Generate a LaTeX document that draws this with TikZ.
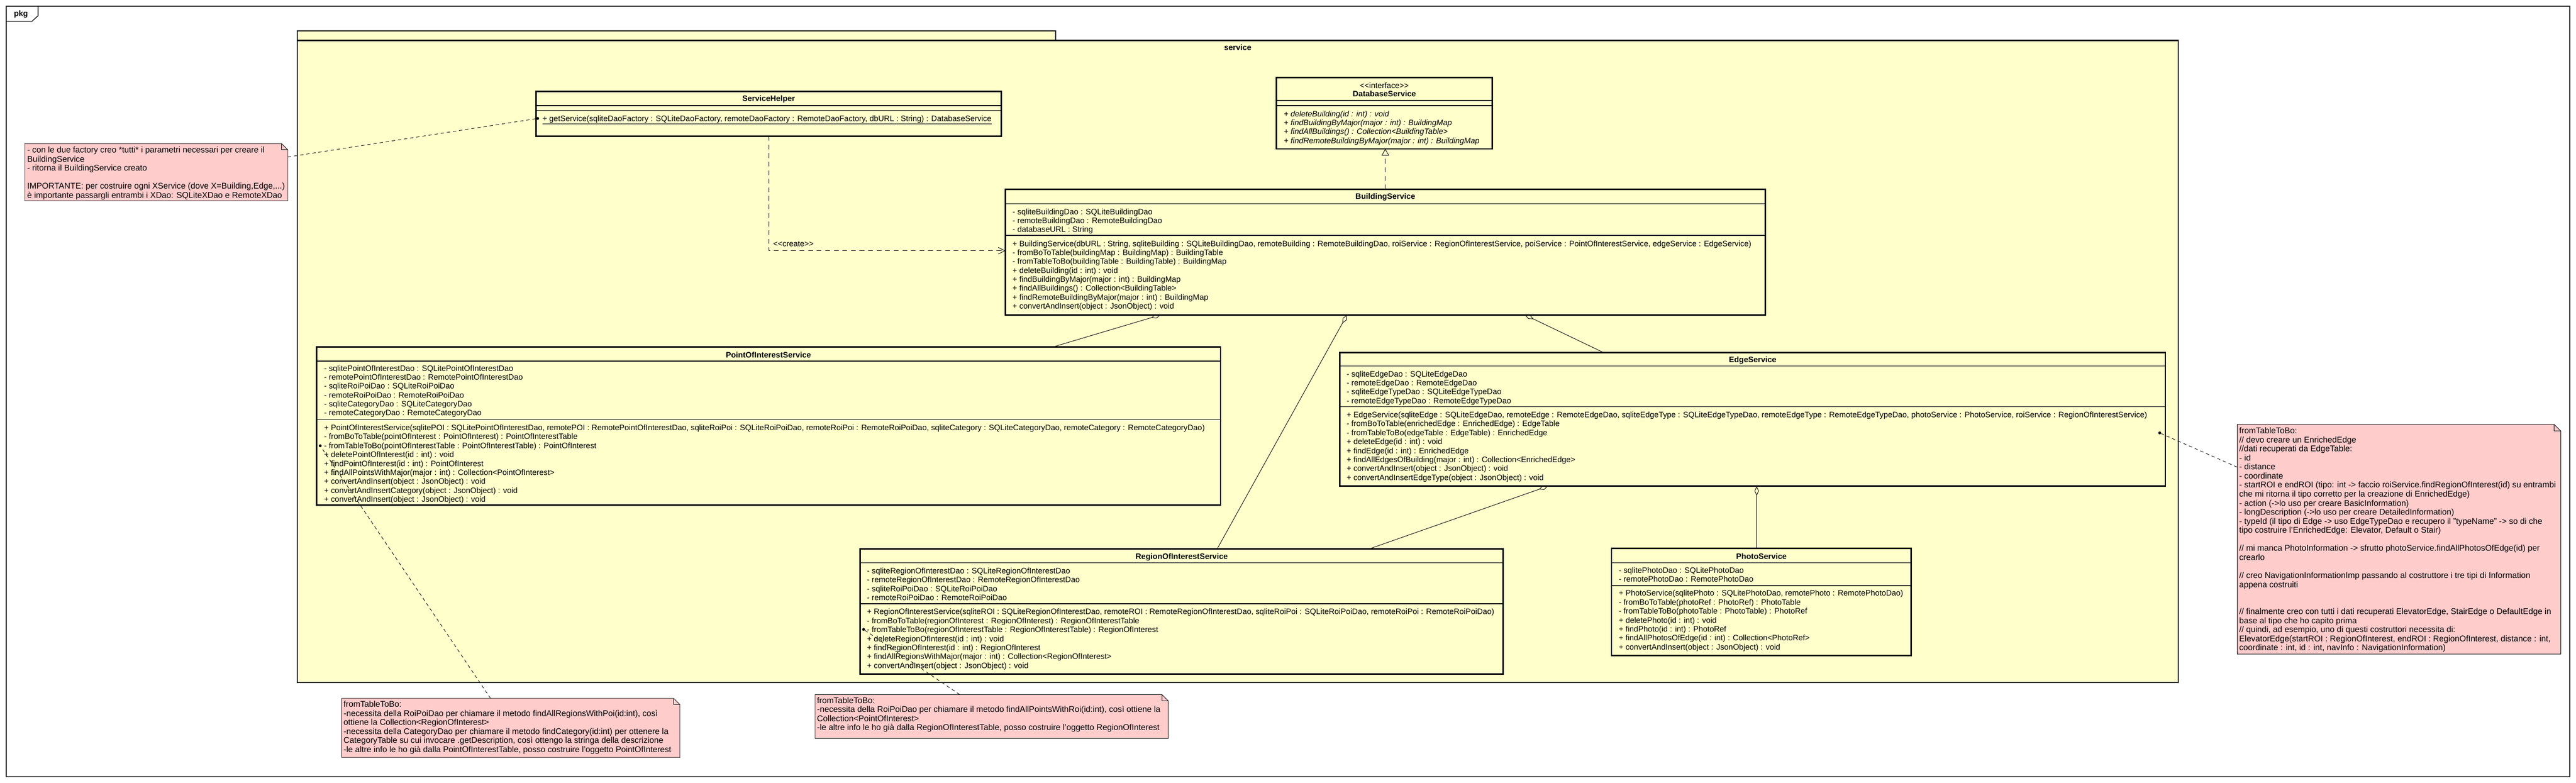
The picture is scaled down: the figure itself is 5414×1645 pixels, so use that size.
\documentclass[tikz,border=0pt]{standalone}
\usepackage{fontspec}
\setmainfont{Liberation Sans}
\usetikzlibrary{arrows.meta}

\definecolor{pkgyellow}{RGB}{255,255,204}
\definecolor{notepink}{RGB}{255,204,204}

\tikzset{
  classbox/.style={draw, line width=3pt, fill=pkgyellow, inner sep=0pt, outer sep=0pt},
  pkgbox/.style={draw, line width=2.5pt, fill=pkgyellow, inner sep=0pt, outer sep=0pt},
  compsep/.style={line width=1.5pt},
  cname/.style={inner sep=0pt, font=\bfseries\fontsize{16.6}{18.8}\selectfont},
  plainlbl/.style={inner sep=0pt, font=\fontsize{16.6}{18.8}\selectfont},
  members/.style={anchor=north west, align=left, inner sep=0pt, font=\fontsize{16.6}{18.8}\selectfont},
  absops/.style={members, font=\itshape\fontsize{16.6}{18.8}\selectfont},
  notebox/.style={draw, line width=1pt, fill=notepink},
  notetext/.style={anchor=north west, align=left, inner sep=0pt, font=\fontsize{17.5}{19}\selectfont},
  aggr/.style={line width=1pt, {Diamond[open, length=20pt, width=9pt]}-},
  realize/.style={line width=1pt, dash pattern=on 10pt off 8pt, -{Triangle[open, length=14pt, width=16pt]}},
  depend/.style={line width=1pt, dash pattern=on 10pt off 8pt, -{Straight Barb[length=14pt, width=14pt]}},
  notelink/.style={line width=1pt, dash pattern=on 7pt off 6pt},
  anchordot/.style={circle, fill, inner sep=0pt, minimum size=6pt}
}

\begin{document}
\begin{tikzpicture}[x=1pt,y=-1pt]
\useasboundingbox (0,0) rectangle (5414,1645);
\fill[white] (0,0) rectangle (5414,1645);

% outer frame
\draw[line width=1.5pt] (13,13) rectangle (5401,1632);
\draw[line width=1.5pt] (13,45) -- (67,45) -- (80,33) -- (80,13);
\node[cname] (pkgLbl) at (44,30) {pkg};

% package service
\node[pkgbox, minimum width=1594, minimum height=20] (serviceTab) at (1422,75) {};
\node[pkgbox, minimum width=3953, minimum height=1350] (service) at (2601.5,760) {};
\node[cname] (serviceLbl) at (2601.5,100) {service};

% ServiceHelper
\node[classbox, minimum width=977, minimum height=94] (sh) at (1615.5,239) {};
\draw[compsep] (1127,222) -- (2104,222);
\draw[compsep] (1127,232) -- (2104,232);
\node[cname] (shName) at (1615.5,209) {ServiceHelper};
\node[members] (shOps) at (1140,242.5) {\underline{+ getService(sqliteDaoFactory : SQLiteDaoFactory, remoteDaoFactory : RemoteDaoFactory, dbURL : String) : DatabaseService}};

% DatabaseService
\node[classbox, minimum width=453, minimum height=150] (dbs) at (2909.5,238) {};
\draw[compsep] (2683,211) -- (3136,211);
\draw[compsep] (2683,222) -- (3136,222);
\node[plainlbl] (dbsStereo) at (2909.5,180) {<{}<interface>{}>};
\node[cname] (dbsName) at (2909.5,197) {DatabaseService};
\node[absops] (dbsOps) at (2698,232.5) {+ deleteBuilding(id : int) : void\\
+ findBuildingByMajor(major : int) : BuildingMap\\
+ findAllBuildings() : Collection<BuildingTable>\\
+ findRemoteBuildingByMajor(major : int) : BuildingMap};

% BuildingService
\node[classbox, minimum width=1597, minimum height=264] (bs) at (2911.5,530) {};
\draw[compsep] (2113,428) -- (3710,428);
\draw[compsep] (2113,495) -- (3710,495);
\node[cname] (bsName) at (2911.5,414) {BuildingService};
\node[members] (bsAttr) at (2128,438.5) {- sqliteBuildingDao : SQLiteBuildingDao\\
- remoteBuildingDao : RemoteBuildingDao\\
- databaseURL : String};
\node[members] (bsOps) at (2128,505.5) {+ BuildingService(dbURL : String, sqliteBuilding : SQLiteBuildingDao, remoteBuilding : RemoteBuildingDao, roiService : RegionOfInterestService, poiService : PointOfInterestService, edgeService : EdgeService)\\
- fromBoToTable(buildingMap : BuildingMap) : BuildingTable\\
- fromTableToBo(buildingTable : BuildingTable) : BuildingMap\\
+ deleteBuilding(id : int) : void\\
+ findBuildingByMajor(major : int) : BuildingMap\\
+ findAllBuildings() : Collection<BuildingTable>\\
+ findRemoteBuildingByMajor(major : int) : BuildingMap\\
+ convertAndInsert(object : JsonObject) : void};

% PointOfInterestService
\node[classbox, minimum width=1900, minimum height=333] (poi) at (1615,895.5) {};
\draw[compsep] (665,759) -- (2565,759);
\draw[compsep] (665,882) -- (2565,882);
\node[cname] (poiName) at (1615,746) {PointOfInterestService};
\node[members] (poiAttr) at (681,767.5) {- sqlitePointOfInterestDao : SQLitePointOfInterestDao\\
- remotePointOfInterestDao : RemotePointOfInterestDao\\
- sqliteRoiPoiDao : SQLiteRoiPoiDao\\
- remoteRoiPoiDao : RemoteRoiPoiDao\\
- sqliteCategoryDao : SQLiteCategoryDao\\
- remoteCategoryDao : RemoteCategoryDao};
\node[members] (poiOps) at (681,892.5) {+ PointOfInterestService(sqlitePOI : SQLitePointOfInterestDao, remotePOI : RemotePointOfInterestDao, sqliteRoiPoi : SQLiteRoiPoiDao, remoteRoiPoi : RemoteRoiPoiDao, sqliteCategory : SQLiteCategoryDao, remoteCategory : RemoteCategoryDao)\\
- fromBoToTable(pointOfInterest : PointOfInterest) : PointOfInterestTable\\
- fromTableToBo(pointOfInterestTable : PointOfInterestTable) : PointOfInterest\\
+ deletePointOfInterest(id : int) : void\\
+ findPointOfInterest(id : int) : PointOfInterest\\
+ findAllPointsWithMajor(major : int) : Collection<PointOfInterest>\\
+ convertAndInsert(object : JsonObject) : void\\
+ convertAndInsertCategory(object : JsonObject) : void\\
+ convertAndInsert(object : JsonObject) : void};

% EdgeService
\node[classbox, minimum width=1735, minimum height=281] (edge) at (3683.5,881.5) {};
\draw[compsep] (2816,769) -- (4551,769);
\draw[compsep] (2816,855) -- (4551,855);
\node[cname] (edgeName) at (3683.5,757) {EdgeService};
\node[members] (edgeAttr) at (2830,779.5) {- sqliteEdgeDao : SQLiteEdgeDao\\
- remoteEdgeDao : RemoteEdgeDao\\
- sqliteEdgeTypeDao : SQLiteEdgeTypeDao\\
- remoteEdgeTypeDao : RemoteEdgeTypeDao};
\node[members] (edgeOps) at (2830,865.5) {+ EdgeService(sqliteEdge : SQLiteEdgeDao, remoteEdge : RemoteEdgeDao, sqliteEdgeType : SQLiteEdgeTypeDao, remoteEdgeType : RemoteEdgeTypeDao, photoService : PhotoService, roiService : RegionOfInterestService)\\
- fromBoToTable(enrichedEdge : EnrichedEdge) : EdgeTable\\
- fromTableToBo(edgeTable : EdgeTable) : EnrichedEdge\\
+ deleteEdge(id : int) : void\\
+ findEdge(id : int) : EnrichedEdge\\
+ findAllEdgesOfBuilding(major : int) : Collection<EnrichedEdge>\\
+ convertAndInsert(object : JsonObject) : void\\
+ convertAndInsertEdgeType(object : JsonObject) : void};

% RegionOfInterestService
\node[classbox, minimum width=1351, minimum height=263] (roi) at (2483.5,1285.5) {};
\draw[compsep] (1808,1183) -- (3159,1183);
\draw[compsep] (1808,1269) -- (3159,1269);
\node[cname] (roiName) at (2483.5,1171) {RegionOfInterestService};
\node[members] (roiAttr) at (1822,1193.5) {- sqliteRegionOfInterestDao : SQLiteRegionOfInterestDao\\
- remoteRegionOfInterestDao : RemoteRegionOfInterestDao\\
- sqliteRoiPoiDao : SQLiteRoiPoiDao\\
- remoteRoiPoiDao : RemoteRoiPoiDao};
\node[members] (roiOps) at (1822,1279.5) {+ RegionOfInterestService(sqliteROI : SQLiteRegionOfInterestDao, remoteROI : RemoteRegionOfInterestDao, sqliteRoiPoi : SQLiteRoiPoiDao, remoteRoiPoi : RemoteRoiPoiDao)\\
- fromBoToTable(regionOfInterest : RegionOfInterest) : RegionOfInterestTable\\
- fromTableToBo(regionOfInterestTable : RegionOfInterestTable) : RegionOfInterest\\
+ deleteRegionOfInterest(id : int) : void\\
+ findRegionOfInterest(id : int) : RegionOfInterest\\
+ findAllRegionsWithMajor(major : int) : Collection<RegionOfInterest>\\
+ convertAndInsert(object : JsonObject) : void};

% PhotoService
\node[classbox, minimum width=630, minimum height=225] (photo) at (3702,1265.5) {};
\draw[compsep] (3387,1183) -- (4017,1183);
\draw[compsep] (3387,1231) -- (4017,1231);
\node[cname] (photoName) at (3702,1169) {PhotoService};
\node[members] (photoAttr) at (3402,1192.5) {- sqlitePhotoDao : SQLitePhotoDao\\
- remotePhotoDao : RemotePhotoDao};
\node[members] (photoOps) at (3402,1240.5) {+ PhotoService(sqlitePhoto : SQLitePhotoDao, remotePhoto : RemotePhotoDao)\\
- fromBoToTable(photoRef : PhotoRef) : PhotoTable\\
- fromTableToBo(photoTable : PhotoTable) : PhotoRef\\
+ deletePhoto(id : int) : void\\
+ findPhoto(id : int) : PhotoRef\\
+ findAllPhotosOfEdge(id : int) : Collection<PhotoRef>\\
+ convertAndInsert(object : JsonObject) : void};

% aggregations
\coordinate (bsPoi) at (2439,662);
\coordinate (poiBs) at (2214,729);
\coordinate (bsRoi) at (2831,662);
\coordinate (roiBs) at (2558,1154);
\coordinate (bsEdge) at (3205,662);
\coordinate (edgeBs) at (3370,741);
\coordinate (edgeRoi) at (3253,1022);
\coordinate (roiEdge) at (2877,1154);
\coordinate (edgePhoto) at (3692,1022);
\coordinate (photoEdge) at (3692,1153);
\foreach \from/\to in {bsPoi/poiBs,bsRoi/roiBs,bsEdge/edgeBs,edgeRoi/roiEdge,edgePhoto/photoEdge}
\draw[aggr] (\from) -- (\to);

% realization and create
\draw[realize] (bs.north) -- (bs.north |- dbs.south);
\coordinate (bsCreate) at (2113,527);
\draw[depend] (sh.south) |- (bsCreate);
\node[plainlbl, anchor=west] (createLbl) at (1625,513) {<{}<create>{}>};

% notes
\draw[notebox] (52,302) -- (592,302) -- (605,315) -- (605,422) -- (52,422) -- cycle;
\draw[line width=1pt] (592,302) -- (592,315) -- (605,315);
\node[notetext] (helperNote) at (57,308.5) {- con le due factory creo *tutti* i parametri necessari per creare il\\
BuildingService\\
- ritorna il BuildingService creato\\
\mbox{}\\
IMPORTANTE: per costruire ogni XService (dove X=Building,Edge,...)\\
è importante passargli entrambi i XDao: SQLiteXDao e RemoteXDao};

\draw[notebox] (718,1468) -- (1416,1468) -- (1429,1481) -- (1429,1592) -- (718,1592) -- cycle;
\draw[line width=1pt] (1416,1468) -- (1416,1481) -- (1429,1481);
\node[notetext] (poiNote) at (722,1473.5) {fromTableToBo:\\
-necessita della RoiPoiDao per chiamare il metodo findAllRegionsWithPoi(id:int), così\\
ottiene la Collection<RegionOfInterest>\\
-necessita della CategoryDao per chiamare il metodo findCategory(id:int) per ottenere la\\
CategoryTable su cui invocare .getDescription, così ottengo la stringa della descrizione\\
-le altre info le ho già dalla PointOfInterestTable, posso costruire l'oggetto PointOfInterest};

\draw[notebox] (1713,1460) -- (2442,1460) -- (2455,1473) -- (2455,1552) -- (1713,1552) -- cycle;
\draw[line width=1pt] (2442,1460) -- (2442,1473) -- (2455,1473);
\node[notetext] (roiNote) at (1717,1465.5) {fromTableToBo:\\
-necessita della RoiPoiDao per chiamare il metodo findAllPointsWithRoi(id:int), così ottiene la\\
Collection<PointOfInterest>\\
-le altre info le ho già dalla RegionOfInterestTable, posso costruire l'oggetto RegionOfInterest};

\draw[notebox] (4702,892) -- (5368,892) -- (5382,906) -- (5382,1375) -- (4702,1375) -- cycle;
\draw[line width=1pt] (5368,892) -- (5368,906) -- (5382,906);
\node[notetext] (edgeNote) at (4706,898.5) {fromTableToBo:\\
// devo creare un EnrichedEdge\\
//dati recuperati da EdgeTable:\\
- id\\
- distance\\
- coordinate\\
- startROI e endROI (tipo: int -> faccio roiService.findRegionOfInterest(id) su entrambi\\
che mi ritorna il tipo corretto per la creazione di EnrichedEdge)\\
- action (->lo uso per creare BasicInformation)\\
- longDescription (->lo uso per creare DetailedInformation)\\
- typeId (il tipo di Edge -> uso EdgeTypeDao e recupero il "typeName" -> so di che\\
tipo costruire l'EnrichedEdge: Elevator, Default o Stair)\\
\mbox{}\\
// mi manca PhotoInformation -> sfrutto photoService.findAllPhotosOfEdge(id) per\\
crearlo\\
\mbox{}\\
// creo NavigationInformationImp passando al costruttore i tre tipi di Information\\
appena costruiti\\
\mbox{}\\
\mbox{}\\
// finalmente creo con tutti i dati recuperati ElevatorEdge, StairEdge o DefaultEdge in\\
base al tipo che ho capito prima\\
// quindi, ad esempio, uno di questi costruttori necessita di:\\
ElevatorEdge(startROI : RegionOfInterest, endROI : RegionOfInterest, distance : int,\\
coordinate : int, id : int, navInfo : NavigationInformation)};

% note links
\node[anchordot] (shDot) at (1130,249) {};
\node[anchordot] (poiDot) at (673,937) {};
\node[anchordot] (roiDot) at (1815,1323) {};
\node[anchordot] (edgeDot) at (4539,910) {};
\coordinate (helperNoteEnd) at (605,330);
\coordinate (poiNoteEnd) at (1031,1468);
\coordinate (roiNoteEnd) at (2017,1460);
\coordinate (edgeNoteEnd) at (4702,982);
\foreach \from/\to in {helperNoteEnd/shDot,poiNoteEnd/poiDot,roiNoteEnd/roiDot,edgeNoteEnd/edgeDot}
\draw[notelink] (\from) -- (\to);
\end{tikzpicture}
\end{document}
